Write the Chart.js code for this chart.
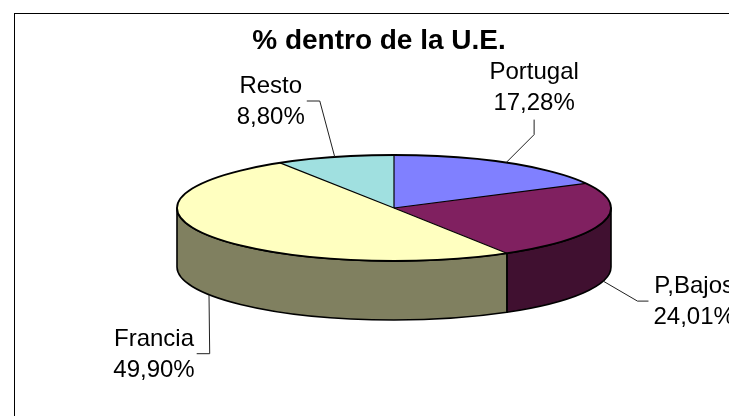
<!DOCTYPE html>
<html>
<head>
<meta charset="utf-8">
<script src="https://cdn.jsdelivr.net/npm/chart.js@4.4.0/dist/chart.umd.min.js"></script>
<style>
  html, body { margin: 0; padding: 0; background: #fff; }
  #wrap { width: 729px; height: 416px; }
</style>
</head>
<body>
<div id="wrap"><canvas id="pie"></canvas></div>
<script>
/* --------------- Data --------------------- */
const countries = ["Portugal", "P,Bajos", "Francia", "Resto"];
const shares = [17.28, 24.01, 49.90, 8.80];
const topColors = ["#8080FF", "#802060", "#FFFFC0", "#A0E0E0"];
const sideColors = ["#404080", "#401030", "#808060", "#507070"];

/* --------------- Look of the tilted pie --------------------- */
const pie3d = { cx: 394, cy: 208, rx: 217, ry: 53, depth: 59 };
// label position relative to its anchor on the pie (text centre, first baseline)
const labelOffsets = [[28, -84], [91, 12], [-55, 51], [-64, -64]];
const leaderSides = ["bottom", "left", "right", "right"];
const labelFont = '24px "Liberation Sans", Arial, sans-serif';
const lineGap = 31;

const pctText = (v) => v.toFixed(2).replace(".", ",") + "%";

// point on the top ellipse (or the bottom one when drop = depth)
const ellipsePoint = (a, drop) => ({
  x: pie3d.cx + pie3d.rx * Math.cos(a),
  y: pie3d.cy + pie3d.ry * Math.sin(a) + (drop || 0),
});

// pieces of [s, e] that face the viewer (lower half of the ellipse)
const frontParts = (s, e) => {
  const parts = [];
  for (let k = -1; k <= 1; k++) {
    const a = Math.max(s, 2 * Math.PI * k);
    const b = Math.min(e, 2 * Math.PI * k + Math.PI);
    if (b > a) parts.push([a, b]);
  }
  return parts;
};

/* --------------- Plugin: frame, walls, squash, outlines, labels --------------------- */
const tiltPlugin = {
  id: "tilt",
  beforeDraw(chart) {
    const ctx = chart.ctx;
    ctx.save();
    ctx.fillStyle = "#ffffff";
    ctx.fillRect(0, 0, chart.width, chart.height);
    ctx.strokeStyle = "#000000";
    ctx.lineWidth = 1;
    ctx.strokeRect(14.5, 13.5, chart.width, chart.height);
    ctx.restore();
  },
  beforeDatasetsDraw(chart) {
    const ctx = chart.ctx;
    const arcs = chart.getDatasetMeta(0).data;
    const { cx, cy, rx, ry, depth } = pie3d;
    // side walls of the front slices
    ctx.save();
    ctx.strokeStyle = "#000000";
    ctx.lineWidth = 1.6;
    ctx.lineJoin = "round";
    arcs.forEach((arc, i) => {
      frontParts(arc.startAngle, arc.endAngle).forEach(([a, b]) => {
        ctx.beginPath();
        ctx.ellipse(cx, cy, rx, ry, 0, a, b, false);
        ctx.ellipse(cx, cy + depth, rx, ry, 0, b, a, true);
        ctx.closePath();
        ctx.fillStyle = sideColors[i];
        ctx.fill();
        ctx.stroke();
      });
    });
    ctx.restore();
    // squash the flat pie into the top face
    const first = arcs[0];
    const r = first.outerRadius;
    ctx.save();
    ctx.translate(cx, cy);
    ctx.scale(rx / r, ry / r);
    ctx.translate(-first.x, -first.y);
  },
  afterDatasetsDraw(chart) {
    const ctx = chart.ctx;
    ctx.restore();
    const arcs = chart.getDatasetMeta(0).data;
    const { cx, cy, rx, ry, depth } = pie3d;
    ctx.save();
    ctx.strokeStyle = "#000000";
    // slice borders on the top face
    ctx.lineWidth = 1.2;
    arcs.forEach((arc) => {
      const p = ellipsePoint(arc.startAngle);
      ctx.beginPath();
      ctx.moveTo(cx, cy);
      ctx.lineTo(p.x, p.y);
      ctx.stroke();
    });
    ctx.lineWidth = 1.8;
    ctx.beginPath();
    ctx.ellipse(cx, cy, rx, ry, 0, 0, 2 * Math.PI);
    ctx.stroke();

    // labels + leader lines
    ctx.font = labelFont;
    ctx.fillStyle = "#000000";
    ctx.textAlign = "center";
    ctx.textBaseline = "alphabetic";
    arcs.forEach((arc, i) => {
      const mid = (arc.startAngle + arc.endAngle) / 2;
      const front = Math.sin(mid) > 0;
      const anchor = ellipsePoint(mid, front ? depth : 0);
      const lx = anchor.x + labelOffsets[i][0];
      const ly = anchor.y + labelOffsets[i][1];
      const lines = [countries[i], pctText(shares[i])];
      lines.forEach((t, j) => ctx.fillText(t, lx, ly + j * lineGap));
      const half = Math.max(...lines.map((t) => ctx.measureText(t).width)) / 2;
      let p1, p2;
      if (leaderSides[i] == "bottom") {
        p1 = { x: lx, y: ly + lineGap + 10 };
        p2 = { x: lx, y: ly + lineGap + 25 };
      } else if (leaderSides[i] == "left") {
        p1 = { x: lx - half - 5, y: ly + 8 };
        p2 = { x: p1.x - 11, y: ly + 8 };
      } else {
        p1 = { x: lx + half + 2, y: ly + 8 };
        p2 = { x: p1.x + 13, y: ly + 8 };
      }
      ctx.lineWidth = 1;
      ctx.strokeStyle = "#202020";
      ctx.beginPath();
      ctx.moveTo(p1.x, p1.y);
      ctx.lineTo(p2.x, p2.y);
      ctx.lineTo(anchor.x, anchor.y);
      ctx.stroke();
    });
    ctx.restore();
  },
};

/* --------------- Chart --------------------- */
let pieChart = new Chart(document.getElementById("pie"), {
  type: "pie",
  plugins: [tiltPlugin],
  data: {
    labels: countries,
    datasets: [
      {
        data: shares,
        backgroundColor: topColors,
        borderWidth: 0,
        hoverOffset: 0,
      },
    ],
  },
  options: {
    responsive: true,
    maintainAspectRatio: false,
    animation: false,
    events: [],
    layout: { padding: { left: 29, right: 0, top: 0, bottom: 0 } },
    plugins: {
      legend: { display: false },
      tooltip: { enabled: false },
      title: {
        display: true,
        text: "% dentro de la U.E.",
        color: "#000000",
        font: { family: '"Liberation Sans", Arial, sans-serif', size: 28, weight: "bold" },
        padding: { top: 24, bottom: 10 },
      },
    },
  },
});
</script>
</body>
</html>
